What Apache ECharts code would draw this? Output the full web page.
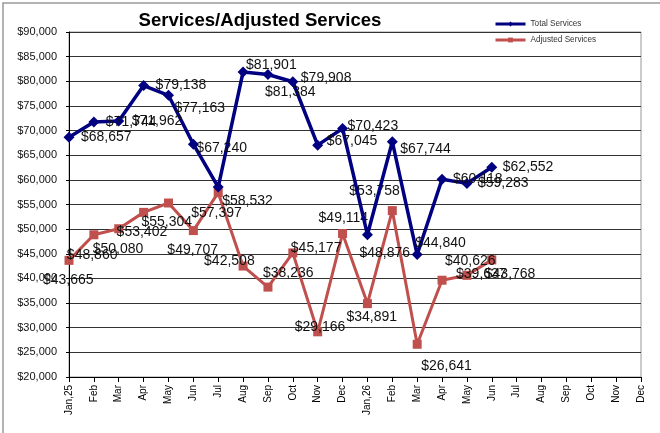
<!DOCTYPE html>
<html>
<head>
<meta charset="utf-8">
<script src="https://cdn.jsdelivr.net/npm/echarts@6/dist/echarts.min.js"></script>
<style>
  html, body { margin: 0; padding: 0; background: #fff; }
  #chart { width: 660px; height: 433px; }
</style>
</head>
<body>
<div id="chart"></div>
<script>
  var months = ['Jan,25', 'Feb', 'Mar', 'Apr', 'May', 'Jun', 'Jul', 'Aug', 'Sep', 'Oct', 'Nov', 'Dec',
                'Jan,26', 'Feb', 'Mar', 'Apr', 'May', 'Jun', 'Jul', 'Aug', 'Sep', 'Oct', 'Nov', 'Dec'];
  var totalServices = [68657, 71744, 71962, 79138, 77163, 67240, 58532, 81901, 81384, 79908, 67045, 70423,
                       48876, 67744, 44840, 60118, 59283, 62552];
  var adjustedServices = [43665, 48860, 50080, 53402, 55304, 49707, 57397, 42508, 38236, 45177, 29166, 49114,
                          34891, 53758, 26641, 39637, 40626, 43768];

  // label placement (left edge / middle offset from the point), like the original sheet
  var totalLabelOffsets = [[12, 0], [12, 0], [13, 0], [12, 0], [6, 13], [3, 4], [4, 14], [3, -7], [-3, 18],
                           [8, -4], [9, -4], [5, -2], [-8, 18], [8, 7], [-2, -11], [11, 0], [11, 0], [11, 0]];
  var adjustedLabelOffsets = [[-26, 20], [-27, 20], [-26, 20], [-27, 20], [-27, 19], [-26, 20], [-27, 20],
                              [-39, -5], [-5, -14], [-2, -5], [-23, -5], [-24, -15], [-21, 14], [-43, -19],
                              [4, 22], [14, -6], [-22, -14], [-7, 14]];

  function money(v) {
    return '$' + String(v).replace(/\B(?=(\d{3})+(?!\d))/g, ',');
  }

  function withLabels(values, offsets) {
    return values.map(function (v, i) {
      return { value: v, label: { offset: offsets[i] } };
    });
  }

  var font = 'Liberation Sans, Arial, sans-serif';
  var labelStyle = {
    show: true,
    position: 'inside',
    align: 'left',
    verticalAlign: 'middle',
    fontFamily: font,
    fontSize: 14,
    color: '#111',
    formatter: function (p) { return money(p.value); }
  };

  var myChart = echarts.init(document.getElementById('chart'));
  myChart.setOption({
    animation: false,
    title: {
      text: 'Services/Adjusted Services',
      left: 255,
      textAlign: 'center',
      top: 6,
      textStyle: { fontFamily: font, fontSize: 18.6, fontWeight: 'bold', color: '#000' }
    },
    legend: {
      orient: 'vertical',
      left: 489,
      top: 15,
      itemWidth: 30,
      itemHeight: 6,
      itemGap: 8,
      textStyle: { fontFamily: font, fontSize: 8.2, color: '#333' },
      data: [
        { name: 'Total Services', lineStyle: { width: 3 } },
        { name: 'Adjusted Services', lineStyle: { width: 3 } }
      ]
    },
    graphic: [{
      type: 'rect',
      shape: { x: 3, y: 3, width: 700, height: 470 },
      style: { fill: 'none', stroke: '#999', lineWidth: 1.5 },
      silent: true
    }],
    grid: {
      left: 69, right: 19, top: 32, bottom: 56,
      show: true, borderColor: '#999', borderWidth: 1
    },
    xAxis: {
      type: 'category',
      boundaryGap: false,
      data: months,
      axisLine: { lineStyle: { color: '#000', width: 1 } },
      axisTick: { interval: 0, length: 5, lineStyle: { color: '#000' } },
      axisLabel: {
        interval: 0, rotate: 90, margin: 8,
        fontFamily: font, fontSize: 10, color: '#000'
      },
      splitLine: { show: false }
    },
    yAxis: {
      type: 'value',
      min: 20000,
      max: 90000,
      interval: 5000,
      axisLine: { show: true, lineStyle: { color: '#000', width: 1 } },
      axisTick: { show: true, length: 3, lineStyle: { color: '#000' } },
      axisLabel: {
        margin: 12, fontFamily: font, fontSize: 11, color: '#111',
        formatter: money
      },
      splitLine: { lineStyle: { color: '#333', width: 1 } }
    },
    series: [
      {
        name: 'Total Services',
        type: 'line',
        symbol: 'diamond',
        symbolSize: 11,
        lineStyle: { color: '#000080', width: 3.5 },
        itemStyle: { color: '#000080' },
        label: labelStyle,
        z: 3,
        data: withLabels(totalServices, totalLabelOffsets)
      },
      {
        name: 'Adjusted Services',
        type: 'line',
        symbol: 'rect',
        symbolSize: 9,
        lineStyle: { color: '#C0504D', width: 3 },
        itemStyle: { color: '#C0504D' },
        label: labelStyle,
        z: 2,
        data: withLabels(adjustedServices, adjustedLabelOffsets)
      }
    ]
  });
</script>
</body>
</html>
